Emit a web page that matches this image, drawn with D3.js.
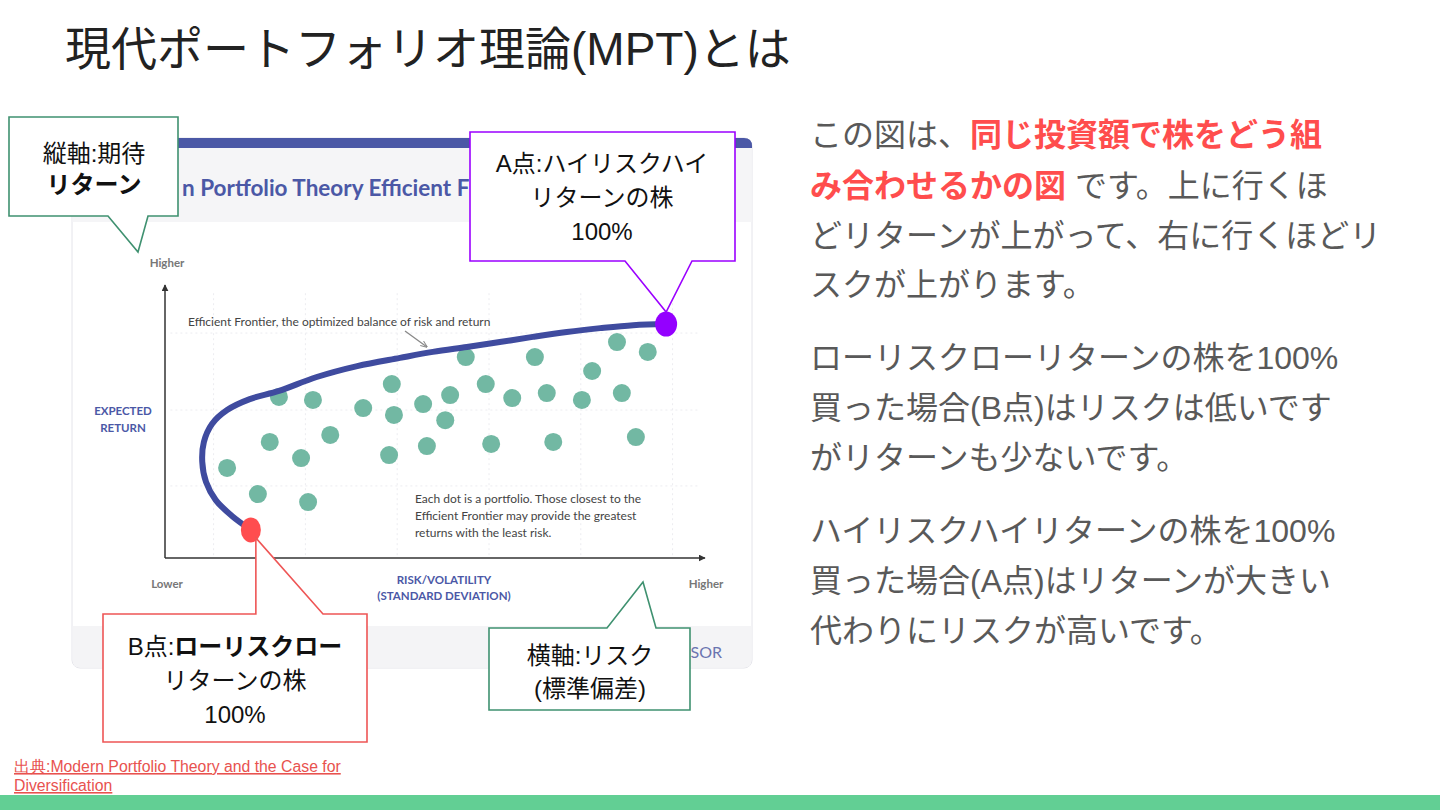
<!DOCTYPE html>
<html>
<head>
<meta charset="utf-8">
<script src="https://cdn.jsdelivr.net/npm/d3@7"></script>
<style>
  html, body { margin: 0; padding: 0; background: #fff; }
  svg { display: block; }
</style>
</head>
<body>
<div id="slide"></div>
<script>
// Portfolio cloud (risk, expected return on a 0-100 scale)
const portfolioRisk   = [11.5, 17.2, 19.4, 21.1, 25.2, 26.5, 27.4, 30.6, 36.7, 41.5, 42.0, 42.4, 47.8, 48.5, 51.9, 52.8, 55.7, 59.4, 60.4, 64.3, 68.5, 70.7, 71.9, 77.2, 79.1, 83.7, 84.6, 87.2, 89.4];
const portfolioReturn = [33.0, 23.4, 42.5, 59.0, 36.6, 20.5, 57.9, 45.1, 54.9, 37.7, 63.7, 52.4, 56.4, 41.0, 50.5, 59.7, 73.6, 63.7, 41.8, 58.6, 73.6, 60.4, 42.5, 57.9, 68.5, 79.1, 60.4, 44.3, 75.5];

// Efficient frontier, from B (low risk) to A (high risk)
const frontierRisk   = [15.9, 12.4, 9.4, 7.6, 6.9, 7.2, 8.7, 11.5, 15.7, 21.1, 28.1, 35.6, 43.5, 49.6, 55.9, 62.0, 68.1, 74.4, 80.6, 86.7, 92.8];
const frontierReturn = [10.3, 15.4, 21.2, 27.8, 35.2, 42.5, 49.1, 54.2, 58.2, 61.2, 66.3, 70.3, 73.3, 75.5, 77.3, 79.1, 81.0, 82.8, 84.2, 85.3, 85.7];

const gridRisk   = [9, 26, 43, 60, 77, 94];
const gridReturn = [26.4, 54.2, 82.4];

const W = 1440, H = 810;
const jp = '"Liberation Sans", "Noto Sans CJK JP", sans-serif';
const lat = 'Lato, "Open Sans", sans-serif';

const svg = d3.select('#slide').append('svg')
    .attr('width', W).attr('height', H)
    .attr('viewBox', `0 0 ${W} ${H}`);

const defs = svg.append('defs');
defs.append('marker')
    .attr('id', 'axArrow')
    .attr('viewBox', '0 0 10 10')
    .attr('refX', 9).attr('refY', 5)
    .attr('markerWidth', 7).attr('markerHeight', 7)
    .attr('markerUnits', 'userSpaceOnUse')
    .attr('orient', 'auto')
    .append('path').attr('d', 'M0,0 L10,5 L0,10 Z').attr('fill', '#333');
defs.append('marker')
    .attr('id', 'noteArrow')
    .attr('viewBox', '0 0 10 10')
    .attr('refX', 9).attr('refY', 5)
    .attr('markerWidth', 7).attr('markerHeight', 7)
    .attr('markerUnits', 'userSpaceOnUse')
    .attr('orient', 'auto')
    .append('path').attr('d', 'M0,1 L10,5 L0,9').attr('fill', 'none').attr('stroke', '#888').attr('stroke-width', 1.4);

// Title
svg.append('text')
    .attr('x', 65).attr('y', 65)
    .attr('font-family', jp).attr('font-size', 46)
    .attr('fill', '#222')
    .text('現代ポートフォリオ理論(MPT)とは');

// Card holding the chart
const card = svg.append('g');
card.append('rect')
    .attr('x', 72).attr('y', 138).attr('width', 680).attr('height', 530)
    .attr('rx', 8).attr('fill', '#fff').attr('stroke', '#e4e4ea');
card.append('path')
    .attr('d', 'M72,148 V146 Q72,138 80,138 H744 Q752,138 752,146 V148 Z')
    .attr('fill', '#4b58a6');
card.append('rect')
    .attr('x', 72.5).attr('y', 148).attr('width', 679).attr('height', 74)
    .attr('fill', '#f5f5f7');
card.append('path')
    .attr('d', 'M72.5,626 H751.5 V660 Q751.5,667.5 744,667.5 H80 Q72.5,667.5 72.5,660 Z')
    .attr('fill', '#f4f4f6');
// only the uncovered parts of the card's own title and footer show
card.append('text')
    .attr('x', 182).attr('y', 196)
    .attr('font-family', lat).attr('font-weight', 700).attr('font-size', 22.5)
    .attr('fill', '#4b58a6')
    .text('n Portfolio Theory Efficient F');
card.append('text')
    .attr('x', 722).attr('y', 658).attr('text-anchor', 'end')
    .attr('font-family', lat).attr('font-size', 16)
    .attr('fill', '#6b74b0')
    .text('SOR');

// Scales
const x = d3.scaleLinear().domain([0, 100]).range([165, 705]);
const y = d3.scaleLinear().domain([0, 100]).range([558, 285]);

// Faint grid
const grid = svg.append('g').attr('stroke', '#ececf0').attr('stroke-dasharray', '2,3');
grid.selectAll('line.v').data(gridRisk).join('line')
    .attr('class', 'v')
    .attr('x1', d => x(d)).attr('x2', d => x(d))
    .attr('y1', y(97)).attr('y2', y(1));
grid.selectAll('line.h').data(gridReturn).join('line')
    .attr('class', 'h')
    .attr('x1', x(1)).attr('x2', x(99))
    .attr('y1', d => y(d)).attr('y2', d => y(d));

// Axes with arrowheads
svg.append('line')
    .attr('x1', x(0)).attr('y1', y(0)).attr('x2', x(0)).attr('y2', y(100))
    .attr('stroke', '#333').attr('stroke-width', 1.5)
    .attr('marker-end', 'url(#axArrow)');
svg.append('line')
    .attr('x1', x(0)).attr('y1', y(0)).attr('x2', x(100)).attr('y2', y(0))
    .attr('stroke', '#333').attr('stroke-width', 1.5)
    .attr('marker-end', 'url(#axArrow)');

// Axis labels
const small = (g, tx, ty, txt, opts = {}) => g.append('text')
    .attr('x', tx).attr('y', ty)
    .attr('text-anchor', opts.anchor || 'middle')
    .attr('font-family', lat)
    .attr('font-size', opts.size || 11.5)
    .attr('font-weight', opts.weight || 400)
    .attr('fill', opts.fill || '#777')
    .text(txt);

small(svg, x(0) + 2, 267, 'Higher', { weight: 700 });
small(svg, x(0) + 2, 588, 'Lower', { weight: 700 });
small(svg, x(100) + 1, 588, 'Higher', { weight: 700 });
small(svg, 123, 415, 'EXPECTED', { weight: 700, fill: '#4b58a6' });
small(svg, 123, 432, 'RETURN', { weight: 700, fill: '#4b58a6' });
small(svg, 444, 584, 'RISK/VOLATILITY', { weight: 700, fill: '#4b58a6' });
small(svg, 444, 600, '(STANDARD DEVIATION)', { weight: 700, fill: '#4b58a6' });

// Portfolio dots
const dots = d3.zip(portfolioRisk, portfolioReturn);
svg.append('g').selectAll('circle').data(dots).join('circle')
    .attr('cx', d => x(d[0])).attr('cy', d => y(d[1]))
    .attr('r', 9)
    .attr('fill', '#72b8a3');

// Efficient frontier
const frontier = d3.zip(frontierRisk, frontierReturn);
svg.append('path')
    .datum(frontier)
    .attr('d', d3.line().x(d => x(d[0])).y(d => y(d[1])).curve(d3.curveCatmullRom.alpha(0.5)))
    .attr('fill', 'none')
    .attr('stroke', '#3f4b9f')
    .attr('stroke-width', 6)
    .attr('stroke-linecap', 'round');

// Notes inside the chart
small(svg, 188, 326, 'Efficient Frontier, the optimized balance of risk and return', { anchor: 'start', fill: '#444', size: 12 });
svg.append('line')
    .attr('x1', 405).attr('y1', 331).attr('x2', 427).attr('y2', 347)
    .attr('stroke', '#888').attr('stroke-width', 1.3)
    .attr('marker-end', 'url(#noteArrow)');
['Each dot is a portfolio. Those closest to the',
 'Efficient Frontier may provide the greatest',
 'returns with the least risk.'].forEach((t, i) =>
    small(svg, 415, 503 + i * 17, t, { anchor: 'start', fill: '#444', size: 12 }));

// Highlighted end points
const pA = frontier[frontier.length - 1];
const pB = frontier[0];
svg.append('ellipse')
    .attr('cx', x(pA[0])).attr('cy', y(pA[1])).attr('rx', 11).attr('ry', 12.5)
    .attr('fill', '#9400ff');
svg.append('ellipse')
    .attr('cx', x(pB[0])).attr('cy', y(pB[1])).attr('rx', 10).attr('ry', 12.5)
    .attr('fill', '#ff4d4f');

// Callouts
function callout(d, stroke, lines, cx, y0, dy) {
    const g = svg.append('g');
    g.append('path').attr('d', d)
        .attr('fill', '#fff').attr('stroke', stroke).attr('stroke-width', 1.6);
    lines.forEach((ln, i) => {
        g.append('text')
            .attr('x', cx).attr('y', y0 + i * dy)
            .attr('text-anchor', 'middle')
            .attr('font-family', jp).attr('font-size', 24)
            .attr('fill', '#111')
            .selectAll('tspan').data(ln).join('tspan')
            .attr('font-weight', s => s.bold ? 700 : 400)
            .text(s => s.t);
    });
}

const ax = x(pA[0]), ay = y(pA[1]) - 12;
const bx = x(pB[0]) + 5, by = y(pB[1]) + 8;

callout('M9,117 H178 V216 H148 L138,252 L108,216 H9 Z', '#3f9170',
    [[{ t: '縦軸:期待' }], [{ t: 'リターン', bold: true }]], 94, 162, 31);
callout(`M470,132 H735 V261 H692 L${ax},${ay} L625,261 H470 Z`, '#9b00ff',
    [[{ t: 'A点:ハイリスクハイ' }], [{ t: 'リターンの株' }], [{ t: '100%' }]], 602, 172, 34);
callout(`M103,614 H${bx} V${by} L323,614 H367 V742 H103 Z`, '#ee5555',
    [[{ t: 'B点:' }, { t: 'ローリスクロー', bold: true }], [{ t: 'リターンの株' }], [{ t: '100%' }]], 235, 655, 34);
callout('M489,628 H607 L643,582 L656,628 H690 V710 H489 Z', '#3f9170',
    [[{ t: '横軸:リスク' }], [{ t: '(標準偏差)' }]], 590, 664, 33);

// Right-hand explanation
const body = svg.append('g')
    .attr('font-family', jp).attr('font-size', 32).attr('fill', '#595959');
const para = [
    [[{ t: 'この図は、' }, { t: '同じ投資額で株をどう組', red: true }], 146],
    [[{ t: 'み合わせるかの図', red: true }, { t: ' です。上に行くほ' }], 197],
    [[{ t: 'どリターンが上がって、右に行くほどリ' }], 247],
    [[{ t: 'スクが上がります。' }], 296],
    [[{ t: 'ローリスクローリターンの株を100%' }], 369],
    [[{ t: '買った場合(B点)はリスクは低いです' }], 419],
    [[{ t: 'がリターンも少ないです。' }], 469],
    [[{ t: 'ハイリスクハイリターンの株を100%' }], 542],
    [[{ t: '買った場合(A点)はリターンが大きい' }], 592],
    [[{ t: '代わりにリスクが高いです。' }], 642]
];
para.forEach(([parts, by]) => {
    body.append('text').attr('x', 810).attr('y', by)
        .selectAll('tspan').data(parts).join('tspan')
        .attr('fill', s => s.red ? '#ff4d4d' : null)
        .attr('font-weight', s => s.red ? 700 : null)
        .attr('xml:space', 'preserve')
        .text(s => s.t);
});

// Source link
const src = svg.append('g')
    .attr('font-family', '"Liberation Sans Narrow", "Liberation Sans", sans-serif')
    .attr('font-size', 15.8).attr('fill', '#e8524f')
    .attr('text-decoration', 'underline');
src.append('text').attr('x', 14).attr('y', 772).text('出典:Modern Portfolio Theory and the Case for');
src.append('text').attr('x', 14).attr('y', 791).text('Diversification');

// Bottom band
svg.append('rect')
    .attr('x', 0).attr('y', 795).attr('width', W).attr('height', 15)
    .attr('fill', '#62cf94');
</script>
</body>
</html>
